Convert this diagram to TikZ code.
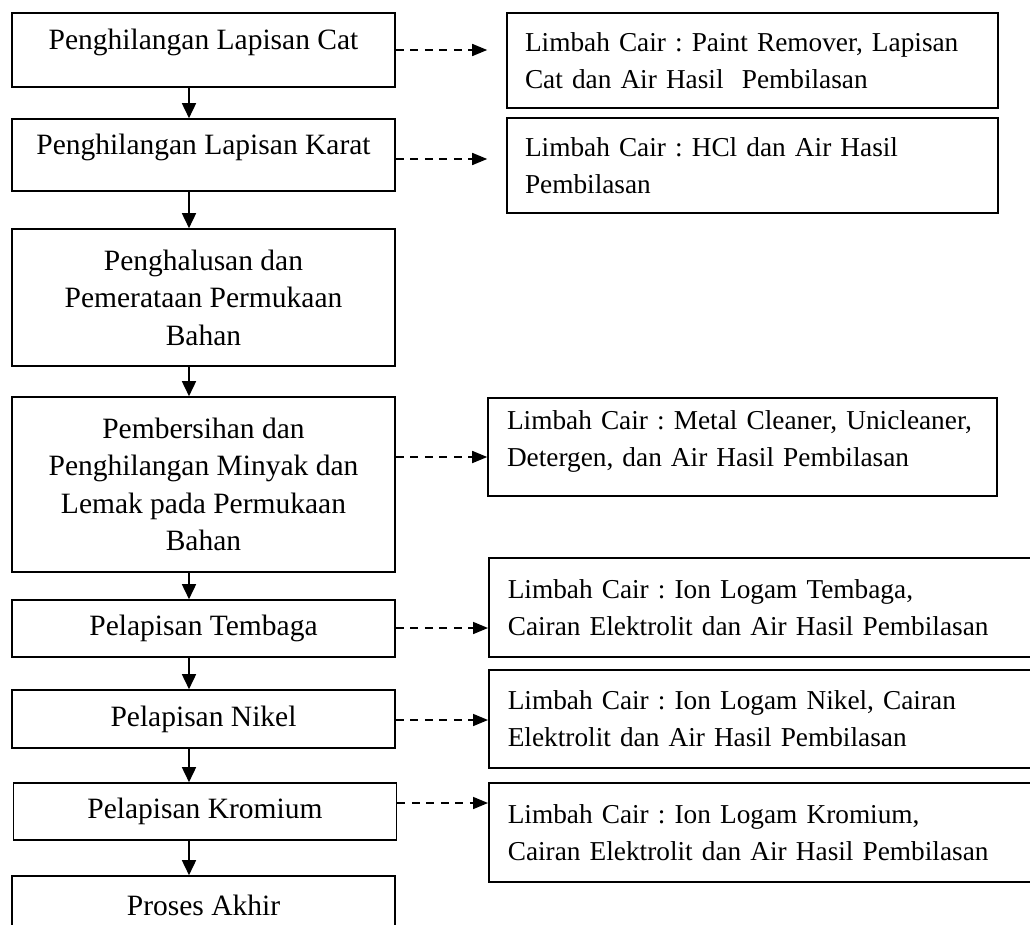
\documentclass[tikz,border=0pt]{standalone}
\usepackage{fontspec}
\setmainfont{Liberation Serif}
\usetikzlibrary{arrows.meta, positioning}
\frenchspacing

\tikzset{
  proc/.style={draw, line width=1.6pt, align=center, inner sep=0pt,
    minimum width=383pt, font=\fontsize{29.5}{37.5}\selectfont},
  waste/.style={draw, line width=1.6pt, align=left, inner ysep=0pt,
    inner xsep=19pt, font=\fontsize{27.3}{37}\selectfont},
  flow/.style={-{Triangle[length=15pt,width=14pt]}, line width=1.6pt},
  limbah/.style={-{Triangle[length=15pt,width=12pt]}, line width=1.6pt,
    dash pattern=on 8pt off 6.5pt}
}

\begin{document}
\begin{tikzpicture}[x=1pt, y=-1pt]
	\useasboundingbox (0,0) rectangle (1030,924);
	\clip (0,0) rectangle (1030,924);

	% tahapan proses
	\node[proc, minimum height=74pt, text depth=22pt] (cat) at (203.5,50) {Penghilangan Lapisan Cat};
	\node[proc, minimum height=72pt, text depth=22pt] (karat) at (203.5,155) {Penghilangan Lapisan Karat};
	\node[proc, minimum height=137pt] (halus) at (203.5,297.5) {Penghalusan dan\\Pemerataan Permukaan\\Bahan};
	\node[proc, minimum height=175pt] (bersih) at (203.5,484.5) {Pembersihan dan\\Penghilangan Minyak dan\\Lemak pada Permukaan\\Bahan};
	\node[proc, minimum height=57pt] (tembaga) at (203.5,628.5) {Pelapisan Tembaga};
	\node[proc, minimum height=58pt] (nikel) at (203.5,719) {Pelapisan Nikel};
	\node[proc, minimum height=57pt] (kromium) at (205,811.5) {Pelapisan Kromium};
	\node[proc, minimum height=58pt] (akhir) at (203.5,905) {Proses Akhir};

	% limbah cair
	\node[waste, inner xsep=18pt, text width=455pt, minimum height=95pt] (lcat) at (752.5,60.5) {Limbah Cair : Paint Remover, Lapisan\\Cat dan Air Hasil~ Pembilasan};
	\node[waste, inner xsep=18pt, text width=455pt, minimum height=95pt] (lkarat) at (752.5,165.5) {Limbah Cair : HCl dan Air Hasil\\Pembilasan};
	\node[waste, text width=471pt, minimum height=98pt] (lbersih) at (742.5,447) {Limbah Cair : Metal Cleaner, Unicleaner,\\Detergen, dan Air Hasil Pembilasan\rule[-17pt]{0pt}{17pt}};
	\node[waste, text width=522pt, minimum height=99pt, anchor=west] (ltembaga) at (488,607.5) {Limbah Cair : Ion Logam Tembaga,\\Cairan Elektrolit dan Air Hasil Pembilasan};
	\node[waste, text width=522pt, minimum height=98pt, anchor=west] (lnikel) at (488,719) {Limbah Cair : Ion Logam Nikel, Cairan\\Elektrolit dan Air Hasil Pembilasan};
	\node[waste, text width=522pt, minimum height=99pt, anchor=west] (lkromium) at (488,832.5) {Limbah Cair : Ion Logam Kromium,\\Cairan Elektrolit dan Air Hasil Pembilasan};

	\draw[flow] ([xshift=-14.5pt]cat.south) -- ([xshift=-14.5pt]karat.north);
	\draw[flow] ([xshift=-14.5pt]karat.south) -- ([xshift=-14.5pt]halus.north);
	\draw[flow] ([xshift=-14.5pt]halus.south) -- ([xshift=-14.5pt]bersih.north);
	\draw[flow] ([xshift=-14.5pt]bersih.south) -- ([xshift=-14.5pt]tembaga.north);
	\draw[flow] ([xshift=-14.5pt]tembaga.south) -- ([xshift=-14.5pt]nikel.north);
	\draw[flow] ([xshift=-14.5pt]nikel.south) -- ([xshift=-14.5pt]nikel.south |- kromium.north);
	\draw[flow] ([xshift=-16pt]kromium.south) -- ([xshift=-14.5pt]akhir.north);

	\draw[limbah] (cat.east) -- ([xshift=-19pt]lcat.west |- cat.east);
	\draw[limbah] ([yshift=-4pt]karat.east) -- ([xshift=-19pt,yshift=-4pt]lkarat.west |- karat.east);
	\draw[limbah] ([yshift=27.5pt]bersih.east) -- ([yshift=27.5pt]lbersih.west |- bersih.east);
	\draw[limbah] ([yshift=0.5pt]tembaga.east) -- ([yshift=0.5pt]ltembaga.west |- tembaga.east);
	\draw[limbah] ([yshift=-1pt]nikel.east) -- ([yshift=-1pt]lnikel.west |- nikel.east);
	\draw[limbah] ([yshift=8.5pt]kromium.east) -- ([yshift=8.5pt]lkromium.west |- kromium.east);
\end{tikzpicture}
\end{document}
